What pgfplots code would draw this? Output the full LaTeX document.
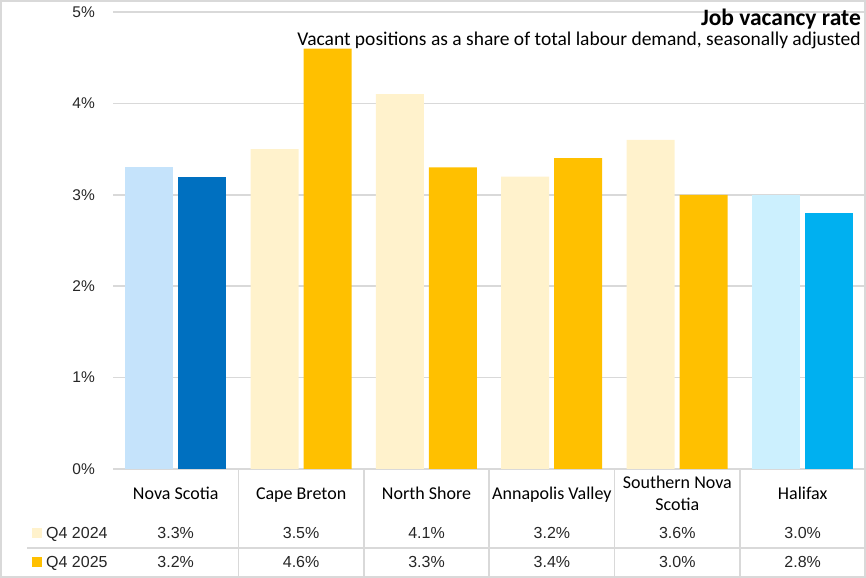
\documentclass[border=0pt]{standalone}
\usepackage{pgfplots}
\pgfplotsset{compat=1.18}
\usepackage{fontspec}
\setmainfont{Liberation Sans}
\newfontfamily\labelfont{Carlito}

\definecolor{nslight}{HTML}{C5E3FB}
\definecolor{nsdark}{HTML}{0070C0}
\definecolor{yellight}{HTML}{FFF2CC}
\definecolor{yeldark}{HTML}{FFC000}
\definecolor{hflight}{HTML}{CCF0FE}
\definecolor{hfdark}{HTML}{00B0F0}
\definecolor{gridgray}{HTML}{D9D9D9}

\begin{document}
\begin{tikzpicture}[x=1bp,y=1bp]
\begin{axis}[
    at={(113bp,109bp)}, anchor=south west,
    scale only axis, width=752bp, height=457bp,
    xmin=-0.5, xmax=5.5, ymin=0, ymax=5,
    axis x line*=bottom, axis y line*=left,
    x axis line style={draw=gridgray, line width=1.5bp, -},
    y axis line style={draw=none},
    xtick=\empty,
    ytick={0,1,2,3,4,5},
    yticklabel={\pgfmathprintnumber{\tick}\%},
    /pgf/number format/assume math mode=true,
    major tick length=0pt,
    ymajorgrids,
    major grid style={draw=gridgray, line width=1.5bp},
    yticklabel style={font=\fontsize{15.5bp}{18bp}\selectfont, color=black!85, inner sep=0pt, xshift=-18bp},
    ybar, bar width=48bp,
    clip=false,
]
% Q4 2024
\addplot[fill=nslight, draw=none, bar shift=-26.5bp] coordinates {(0,3.3)};
\addplot[fill=yellight, draw=none, bar shift=-26.5bp] coordinates {(1,3.5) (2,4.1) (3,3.2) (4,3.6)};
\addplot[fill=hflight, draw=none, bar shift=-26.5bp] coordinates {(5,3.0)};
% Q4 2025
\addplot[fill=nsdark, draw=none, bar shift=26.5bp] coordinates {(0,3.2)};
\addplot[fill=yeldark, draw=none, bar shift=26.5bp] coordinates {(1,4.6) (2,3.3) (3,3.4) (4,3.0)};
\addplot[fill=hfdark, draw=none, bar shift=26.5bp] coordinates {(5,2.8)};
\end{axis}

% title
\node[anchor=base east, inner sep=0pt, font=\labelfont\bfseries\fontsize{23.5bp}{26bp}\selectfont] at (861,552) {Job vacancy rate};
\node[anchor=base east, inner sep=0pt, font=\labelfont\fontsize{19.5bp}{22bp}\selectfont] at (861,532) {Vacant positions as a share of total labour demand, seasonally adjusted};

% data table grid
\foreach \xx in {238.4,363.8,489.2,614.6,740} \draw[gridgray, line width=1.5bp] (\xx,109) -- (\xx,0);
\draw[gridgray, line width=1.5bp] (27,30) -- (865,30);

% category labels
\begin{scope}[every node/.style={inner sep=0pt, font=\labelfont\fontsize{18bp}{22bp}\selectfont}]
\node[anchor=base] at (175.7,78) {Nova Scotia};
\node[anchor=base] at (301.1,78) {Cape Breton};
\node[anchor=base] at (426.5,78) {North Shore};
\node[anchor=base] at (551.9,78) {Annapolis Valley};
\node[anchor=base] at (677.3,89) {Southern Nova};
\node[anchor=base] at (677.3,67) {Scotia};
\node[anchor=base] at (802.7,78) {Halifax};
\end{scope}

% legend keys and values
\fill[yellight] (32,40) rectangle (42,50);
\fill[yeldark] (32,11) rectangle (42,21);
\begin{scope}[every node/.style={inner sep=0pt, text=black!85, font=\fontsize{16bp}{18bp}\selectfont}]
\node[anchor=base west] at (46,39) {Q4 2024};
\node[anchor=base west] at (46,10) {Q4 2025};
\foreach \cx/\va/\vb in {175.7/3.3/3.2, 301.1/3.5/4.6, 426.5/4.1/3.3, 551.9/3.2/3.4, 677.3/3.6/3.0, 802.7/3.0/2.8} {
  \node[anchor=base] at (\cx,39) {\va\%};
  \node[anchor=base] at (\cx,10) {\vb\%};
}
\end{scope}

% outer frame
\draw[gridgray, line width=2bp] (1,1) rectangle (865,577);
\pgfresetboundingbox
\useasboundingbox (0,0) rectangle (866,578);
\end{tikzpicture}
\end{document}
